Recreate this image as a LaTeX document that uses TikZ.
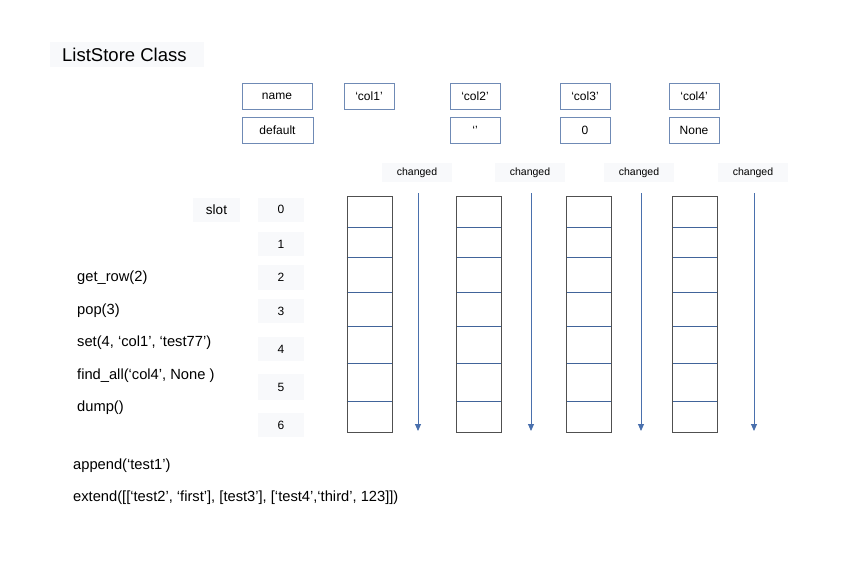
\documentclass[tikz,border=0pt]{standalone}
\usepackage{fontspec}
\setmainfont{Liberation Sans}
\usetikzlibrary{arrows.meta}
\definecolor{boxline}{HTML}{6F8AB5}
\definecolor{arrowc}{HTML}{4A70AD}
\definecolor{rowline}{HTML}{41649A}
\definecolor{cellline}{HTML}{505050}
\definecolor{softbg}{HTML}{F8F9FB}
\tikzset{
  valbox/.style={draw=boxline, line width=0.9pt, fill=white, inner sep=0pt, font=\fontsize{12}{14}\selectfont},
  softbox/.style={fill=softbg, inner sep=0pt},
  codetext/.style={anchor=west, inner sep=0pt, font=\fontsize{14.7}{16}\selectfont},
  flowarrow/.style={draw=arrowc, line width=0.9pt, -{Triangle[length=7pt,width=6pt]}},
}
\begin{document}
\begin{tikzpicture}[x=1pt,y=-1pt]
\useasboundingbox (0,0) rectangle (864,576);
% title
\node[softbox, minimum width=154pt, minimum height=25pt] (titlebg) at (127,54.5) {};
\node[anchor=west, inner sep=0pt, font=\fontsize{18.5}{20}\selectfont] (title) at (62,55) {ListStore Class};
% header boxes
\node[valbox, minimum width=70pt, minimum height=26pt] (name) at (277,96) {name};
\node[valbox, minimum width=71pt, minimum height=26pt] (default) at (277.5,130) {default};
\node[valbox, minimum width=50pt, minimum height=26pt] (c1) at (369,96) {‘col1’};
\node[valbox, minimum width=50pt, minimum height=26pt] (c2) at (475,96) {‘col2’};
\node[valbox, minimum width=50pt, minimum height=26pt] (d2) at (475,130) {‘’};
\node[valbox, minimum width=50pt, minimum height=26pt] (c3) at (585,96) {‘col3’};
\node[valbox, minimum width=50pt, minimum height=26pt] (d3) at (585,130) {0};
\node[valbox, minimum width=50pt, minimum height=26pt] (c4) at (694,96) {‘col4’};
\node[valbox, minimum width=50pt, minimum height=26pt] (d4) at (694,130) {None};
% changed labels
\foreach \i/\x in {1/417,2/530,3/639,4/753}{
  \node[softbox, minimum width=70pt, minimum height=19pt, font=\fontsize{10.5}{12}\selectfont] (ch\i) at (\x,172.5) {changed};
}
% arrows
\foreach \i/\x in {1/418,2/531,3/641,4/754}{
  \coordinate (as\i) at (\x,193);
  \coordinate (ae\i) at (\x,431);
  \draw[flowarrow] (as\i) -- (ae\i);
}
% columns
\foreach \i/\x in {1/346.5,2/456,3/566,4/672}{
  \foreach \y in {227,257,292,326,363,401}{
    \draw[rowline, line width=0.9pt] (\x,\y) -- (\x+45,\y);
  }
  \node[draw=cellline, line width=1pt, minimum width=45pt, minimum height=236pt, inner sep=0pt, anchor=north west] (col\i) at (\x,196) {};
}
% slot
\node[softbox, minimum width=47pt, minimum height=24pt, font=\fontsize{13.5}{15}\selectfont] (slot) at (216.5,209.5) {slot};
\foreach \n/\y/\h in {0/209.5/24,1/244/24,2/277.5/25,3/311/24,4/349/24,5/387/26,6/425/24}{
  \node[softbox, minimum width=46pt, minimum height=\h pt, font=\fontsize{12}{14}\selectfont] (s\n) at (281,\y) {\n};
}
% methods
\node[codetext] (m1) at (77,278) {get\_row(2)};
\node[codetext] (m2) at (77,311) {pop(3)};
\node[codetext] (m3) at (77,343) {set(4, ‘col1’, ‘test77’)};
\node[codetext] (m4) at (77,376) {find\_all(‘col4’, None )};
\node[codetext] (m5) at (77,408) {dump()};
\node[codetext] (m6) at (73,466) {append(‘test1’)};
\node[codetext] (m7) at (73,498) {extend([[‘test2’, ‘first’], [test3’], [‘test4’,‘third’, 123]])};
\end{tikzpicture}
\end{document}
